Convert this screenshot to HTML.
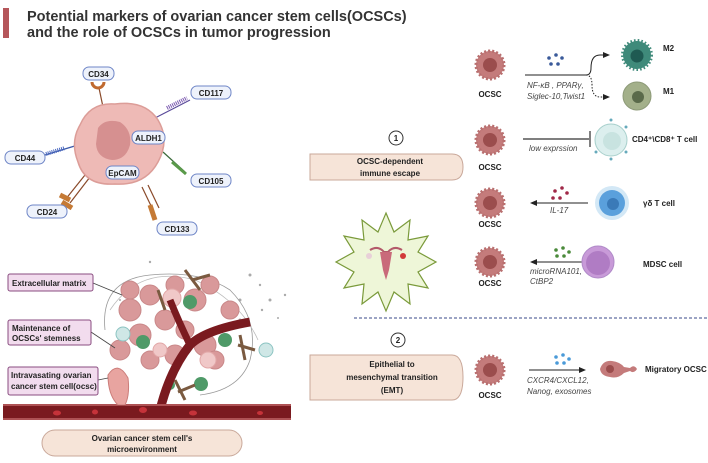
<!DOCTYPE html>
<html><head><meta charset="utf-8"><style>
body{margin:0;background:#fff;}
svg{display:block;font-family:"Liberation Sans",sans-serif;}
.b{font-weight:bold;font-size:8px;fill:#222;}
.i{font-style:italic;font-size:8px;fill:#444;}
.pl{fill:#eef2fb;stroke:#6f86c7;stroke-width:1;}
</style></head><body>
<svg width="708" height="463" viewBox="0 0 708 463">
<defs>
<radialGradient id="cell" cx="50%" cy="50%" r="50%"><stop offset="0" stop-color="#b46a6a"/><stop offset="1" stop-color="#c98585"/></radialGradient>
<g id="ocsc"><circle r="14" fill="#c47b7b" stroke="#b86f6f" stroke-width="3" stroke-dasharray="2 2"/><circle r="7" fill="#9b4d4d"/></g>
</defs>
<rect x="3" y="8" width="6" height="30" fill="#b5565a"/>
<text x="27" y="21" font-size="14.5" font-weight="bold" fill="#333">Potential markers of ovarian cancer stem cells(OCSCs)</text>
<text x="27" y="37" font-size="14.5" font-weight="bold" fill="#333">and the role of OCSCs in tumor progression</text>

<!-- marker cell -->
<g stroke-width="1.2">
<line x1="103" y1="107" x2="99" y2="88" stroke="#8a4a2a"/>
<path d="M92 82 a6 6 0 0 0 12 0" fill="none" stroke="#c06a30" stroke-width="3"/>
<line x1="155" y1="118" x2="190" y2="100" stroke="#5a4a9a"/>
<line x1="167" y1="108" x2="187" y2="98" stroke="#7b5ab0" stroke-width="4" stroke-dasharray="1 1"/>
<line x1="78" y1="145" x2="45" y2="155" stroke="#3a58a8"/>
<line x1="46" y1="154" x2="65" y2="148" stroke="#4a68c0" stroke-width="4" stroke-dasharray="1 1"/>
<line x1="163" y1="152" x2="185" y2="172" stroke="#3a6a3a"/>
<line x1="172" y1="162" x2="186" y2="174" stroke="#5a9a4a" stroke-width="3"/>
<line x1="85" y1="175" x2="65" y2="200" stroke="#8a4a2a"/>
<line x1="90" y1="177" x2="70" y2="203" stroke="#8a4a2a"/>
<line x1="60" y1="195" x2="70" y2="200" stroke="#c57a35" stroke-width="5"/>
<line x1="62" y1="202" x2="72" y2="208" stroke="#c57a35" stroke-width="5"/>
<line x1="142" y1="187" x2="153" y2="210" stroke="#8a4a2a"/>
<line x1="148" y1="185" x2="159" y2="208" stroke="#8a4a2a"/>
<line x1="150" y1="205" x2="155" y2="220" stroke="#c57a35" stroke-width="5"/>
</g>
<path d="M80 125 Q90 102 115 104 Q145 100 158 120 Q170 140 158 162 Q145 186 115 184 Q85 186 78 162 Q70 142 80 125Z" fill="#eebab6" stroke="#dc9d98" stroke-width="1.5"/>
<path d="M98 128 Q105 118 120 122 Q132 130 130 145 Q126 160 112 160 Q97 158 96 144Z" fill="#d69090"/>
<g class="b" text-anchor="middle">
<rect class="pl" x="83" y="67" width="31" height="13" rx="6"/><text x="98.5" y="77">CD34</text>
<rect class="pl" x="191" y="86" width="40" height="13" rx="6"/><text x="211" y="96">CD117</text>
<rect class="pl" x="132" y="131" width="33" height="13" rx="6"/><text x="148.5" y="141">ALDH1</text>
<rect class="pl" x="5" y="151" width="40" height="13" rx="6"/><text x="25" y="161">CD44</text>
<rect class="pl" x="106" y="166" width="33" height="13" rx="6"/><text x="122.5" y="176">EpCAM</text>
<rect class="pl" x="191" y="174" width="40" height="13" rx="6"/><text x="211" y="184">CD105</text>
<rect class="pl" x="27" y="205" width="40" height="13" rx="6"/><text x="47" y="215">CD24</text>
<rect class="pl" x="157" y="222" width="40" height="13" rx="6"/><text x="177" y="232">CD133</text>
</g>

<!-- microenvironment -->
<g fill="#aaa">
<circle cx="250" cy="275" r="1.5"/><circle cx="260" cy="285" r="1.2"/><circle cx="270" cy="300" r="1.5"/><circle cx="262" cy="310" r="1.2"/><circle cx="285" cy="295" r="1.2"/><circle cx="240" cy="300" r="1.5"/><circle cx="278" cy="318" r="1"/><circle cx="240" cy="320" r="1.5"/><circle cx="150" cy="262" r="1.2"/><circle cx="145" cy="300" r="1.5"/><circle cx="120" cy="300" r="1"/>
</g>
<path d="M105 330 Q100 280 150 275 Q200 270 230 290 Q260 320 250 360 Q240 390 200 395" fill="none" stroke="#999" stroke-width="0.8"/>
<path d="M110 310 Q140 265 195 280 Q240 300 258 340" fill="none" stroke="#bbb" stroke-width="0.8"/>
<g fill="#d9999a" stroke="#c98889" stroke-width="1">
<circle cx="130" cy="310" r="11"/><circle cx="150" cy="295" r="10"/><circle cx="175" cy="285" r="9"/><circle cx="195" cy="300" r="11"/><circle cx="210" cy="285" r="9"/><circle cx="120" cy="350" r="10"/><circle cx="140" cy="335" r="11"/><circle cx="165" cy="320" r="10"/><circle cx="185" cy="330" r="9"/><circle cx="205" cy="345" r="11"/><circle cx="230" cy="310" r="9"/><circle cx="150" cy="360" r="9"/><circle cx="175" cy="355" r="10"/><circle cx="215" cy="360" r="9"/><circle cx="130" cy="290" r="9"/>
</g>
<g fill="#f0c8c8" stroke="#e2a8a8"><circle cx="172" cy="298" r="9"/><circle cx="208" cy="360" r="8"/><circle cx="160" cy="350" r="7"/></g>
<g fill="#4f9a68"><circle cx="190" cy="302" r="7"/><circle cx="143" cy="342" r="7"/><circle cx="225" cy="340" r="7"/><circle cx="201" cy="384" r="7"/><circle cx="170" cy="385" r="5"/></g>
<g fill="#cfe7e6" stroke="#8cc4c2"><circle cx="123" cy="334" r="7"/><circle cx="266" cy="350" r="7"/></g>
<g stroke="#7a5a40" stroke-width="3" fill="none"><path d="M185 270 L200 290 M192 280 L210 275"/><path d="M240 335 L245 360 M238 345 L255 350"/><path d="M175 380 L185 400 M178 392 L195 385"/><path d="M158 290 L165 310"/></g>
<path d="M160 410 Q170 370 190 345 Q205 330 250 322" fill="none" stroke="#7a1a1f" stroke-width="9"/>
<path d="M190 345 Q178 320 170 300" fill="none" stroke="#7a1a1f" stroke-width="7"/>
<rect x="3" y="404" width="288" height="16" fill="#7a1a1f"/>
<line x1="3" y1="405" x2="291" y2="405" stroke="#e28a8a" stroke-width="1"/><line x1="3" y1="419" x2="291" y2="419" stroke="#e28a8a" stroke-width="1"/>
<g fill="#c5333a"><ellipse cx="57" cy="413" rx="4" ry="2.5"/><ellipse cx="95" cy="412" rx="3" ry="2.5"/><ellipse cx="143" cy="410" rx="4" ry="3"/><ellipse cx="193" cy="413" rx="4" ry="2.5"/><ellipse cx="260" cy="413" rx="3" ry="2"/></g>
<path d="M108 375 Q118 360 128 378 Q130 395 125 405 L118 405 Q108 395 108 375Z" fill="#e8a4a0" stroke="#cc7d7a"/>
<g stroke="#444" stroke-width="0.8"><line x1="93" y1="283" x2="122" y2="295"/><line x1="91" y1="332" x2="115" y2="348"/><line x1="98" y1="380" x2="108" y2="378"/></g>
<g fill="#f2dcee" stroke="#8a4d80" stroke-width="1">
<rect x="8" y="274" width="85" height="17" rx="2"/><rect x="8" y="320" width="83" height="25" rx="2"/><rect x="8" y="367" width="90" height="28" rx="2"/></g>
<g class="b"><text x="12" y="286">Extracellular matrix</text><text x="12" y="331">Maintenance of</text><text x="12" y="341">OCSCs' stemness</text><text x="11" y="378">Intravasating  ovarian</text><text x="11" y="389">cancer stem cell(ocsc)</text></g>
<rect x="42" y="430" width="200" height="26" rx="13" fill="#f6e4d8" stroke="#c9a89a"/>
<g class="b" font-size="8.5" text-anchor="middle"><text x="142" y="441">Ovarian cancer stem cell's</text><text x="142" y="452">microenvironment</text></g>

<!-- star -->
<polygon points="386,213 394,232 410,220 408,240 428,236 418,252 436,262 418,272 428,288 408,284 410,304 394,292 386,311 378,292 362,304 364,284 344,288 354,272 336,262 354,252 344,236 364,240 362,220 378,232" fill="#eef6d8" stroke="#7a9a3a" stroke-width="1.2"/>
<path d="M370 250 Q378 245 384 252 L388 252 Q394 245 402 250" fill="none" stroke="#b35a6a" stroke-width="2"/>
<path d="M380 252 L392 252 L389 270 L386 280 L383 270Z" fill="#c96a7a"/>
<circle cx="369" cy="256" r="3" fill="#e8d0d8"/><circle cx="403" cy="256" r="3" fill="#d23a3a"/>

<!-- immune escape -->
<circle cx="396" cy="138" r="7" fill="#fff" stroke="#333"/><text x="396" y="141" class="b" text-anchor="middle">1</text>
<path d="M310 154 H452 Q463 154 463 167 Q463 180 452 180 H310Z" fill="#f6e4d8" stroke="#c9a89a"/>
<g class="b" font-size="9" text-anchor="middle"><text x="390" y="164">OCSC-dependent</text><text x="390" y="176">immune escape</text></g>

<use href="#ocsc" x="490" y="65"/><text x="490" y="97" class="b" text-anchor="middle">OCSC</text>
<g fill="#3a5a9a"><circle cx="549" cy="58" r="1.8"/><circle cx="556" cy="55" r="1.8"/><circle cx="562" cy="58" r="1.8"/><circle cx="551" cy="64" r="1.8"/><circle cx="558" cy="64" r="1.8"/></g>
<path d="M525 75 H586 Q591 75 591 68 Q591 55 600 55 H608" fill="none" stroke="#222" stroke-width="1"/>
<polygon points="610,55 603,52 603,58" fill="#222"/>
<path d="M586 75 Q592 75 592 85 Q592 97 600 97 H608" fill="none" stroke="#222" stroke-dasharray="1.5 1.5"/>
<polygon points="610,97 603,94 603,100" fill="#222"/>
<text x="527" y="88" class="i">NF-κB , PPARγ,</text><text x="527" y="99" class="i">Siglec-10,Twist1</text>
<circle cx="637" cy="55" r="14" fill="#3f8a7a" stroke="#3f8a7a" stroke-width="4" stroke-dasharray="1.5 2"/><circle cx="637" cy="56" r="6.5" fill="#1f5a52"/>
<circle cx="637" cy="96" r="14" fill="#a3b08a" stroke="#8d9a78"/><circle cx="638" cy="97" r="6" fill="#5a6a4a"/>
<text x="663" y="51" class="b">M2</text><text x="663" y="94" class="b">M1</text>

<use href="#ocsc" x="490" y="140"/><text x="490" y="170" class="b" text-anchor="middle">OCSC</text>
<line x1="523" y1="139" x2="589" y2="139" stroke="#555" stroke-width="1.5"/><line x1="590" y1="131" x2="590" y2="147" stroke="#555" stroke-width="1.5"/>
<text x="529" y="151" class="i">low exprssion</text>
<g fill="#6ab"><circle cx="611" cy="120" r="1.5"/><circle cx="626" cy="127" r="1.5"/><circle cx="626" cy="152" r="1.5"/><circle cx="611" cy="159" r="1.5"/><circle cx="596" cy="152" r="1.5"/></g>
<circle cx="611" cy="140" r="16" fill="#dcefee" stroke="#a8d0cc"/><circle cx="612" cy="141" r="9" fill="#c8e3e0"/>
<text x="632" y="142" class="b">CD4⁺\CD8⁺ T cell</text>

<use href="#ocsc" x="490" y="203"/><text x="490" y="227" class="b" text-anchor="middle">OCSC</text>
<g fill="#a02848"><circle cx="555" cy="191" r="1.8"/><circle cx="562" cy="188" r="1.8"/><circle cx="567" cy="193" r="1.8"/><circle cx="560" cy="198" r="1.8"/><circle cx="553" cy="198" r="1.8"/></g>
<line x1="588" y1="203" x2="535" y2="203" stroke="#222"/><polygon points="530,203 537,200 537,206" fill="#222"/>
<text x="550" y="213" class="i">IL-17</text>
<circle cx="612" cy="203" r="17" fill="#d3e8f6"/><circle cx="612" cy="203" r="13" fill="#5aa0dc"/><circle cx="613" cy="204" r="6" fill="#3a7ab8"/>
<text x="643" y="206" class="b">γδ T cell</text>

<use href="#ocsc" x="490" y="262"/><text x="490" y="286" class="b" text-anchor="middle">OCSC</text>
<g fill="#4a8a3a"><circle cx="556" cy="250" r="1.8"/><circle cx="563" cy="248" r="1.8"/><circle cx="569" cy="252" r="1.8"/><circle cx="557" cy="256" r="1.8"/><circle cx="564" cy="256" r="1.8"/></g>
<line x1="587" y1="262" x2="535" y2="262" stroke="#222"/><polygon points="530,262 537,259 537,265" fill="#222"/>
<text x="530" y="274" class="i">microRNA101,</text><text x="530" y="284" class="i">CtBP2</text>
<circle cx="598" cy="262" r="16" fill="#c89ad8" stroke="#b08ac8"/><circle cx="598" cy="263" r="12" fill="#b07cc4"/>
<text x="643" y="267" class="b">MDSC cell</text>

<line x1="354" y1="318" x2="708" y2="318" stroke="#3a4a8a" stroke-width="1" stroke-dasharray="3 2"/>

<circle cx="398" cy="340" r="7" fill="#fff" stroke="#333"/><text x="398" y="343" class="b" text-anchor="middle">2</text>
<path d="M310 355 H452 Q463 355 463 377 Q463 400 452 400 H310Z" fill="#f6e4d8" stroke="#c9a89a"/>
<g class="b" font-size="9" text-anchor="middle"><text x="392" y="367">Epithelial to</text><text x="392" y="380">mesenchymal transition</text><text x="392" y="393">(EMT)</text></g>
<use href="#ocsc" x="490" y="370"/><text x="490" y="398" class="b" text-anchor="middle">OCSC</text>
<g fill="#4a9ad8"><circle cx="556" cy="357" r="1.8"/><circle cx="563" cy="355" r="1.8"/><circle cx="569" cy="359" r="1.8"/><circle cx="557" cy="363" r="1.8"/><circle cx="564" cy="363" r="1.8"/></g>
<line x1="529" y1="370" x2="580" y2="370" stroke="#222"/><polygon points="586,370 579,367 579,373" fill="#222"/>
<text x="527" y="383" class="i">CXCR4/CXCL12,</text><text x="527" y="394" class="i">Nanog, exosomes</text>
<path d="M600 369 Q603 360 612 361 Q620 362 624 367 L630 368 Q634 364 637 369 Q634 374 630 371 L624 373 Q618 379 610 377 Q601 376 600 369Z" fill="#c47b7b"/><circle cx="610" cy="369" r="4" fill="#9b4d4d"/>
<text x="645" y="372" class="b">Migratory OCSC</text>
</svg>
</body></html>
